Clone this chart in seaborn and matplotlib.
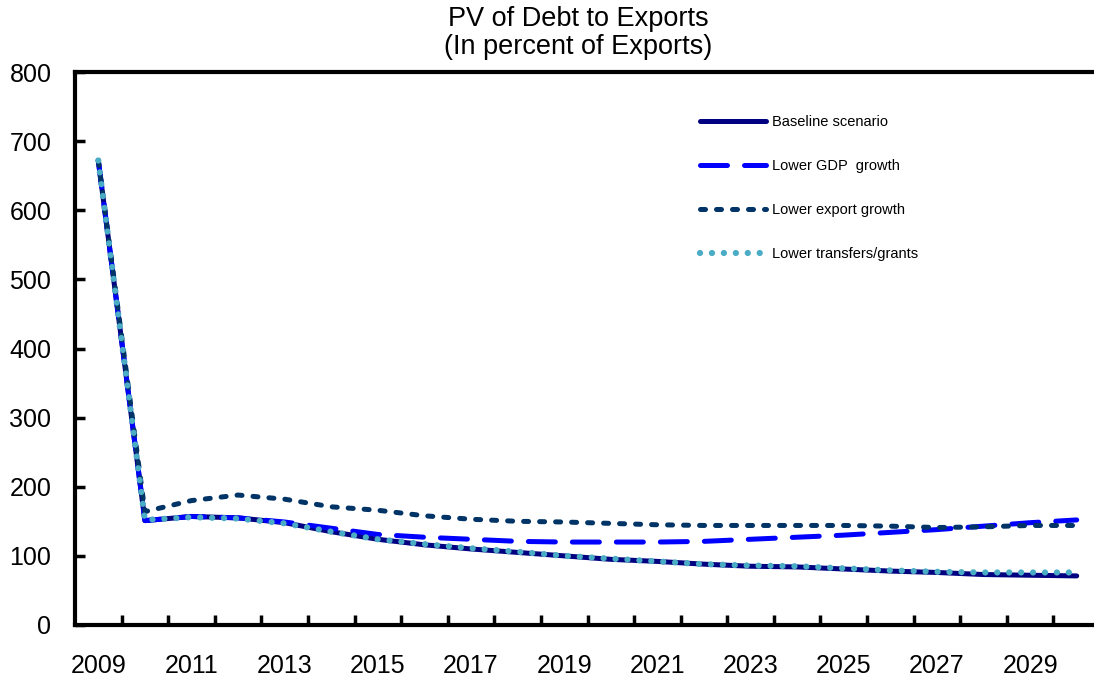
import pandas as pd
import matplotlib.pyplot as plt
import seaborn as sns

years = list(range(2009, 2031))
baseline = [672, 151, 157, 155, 148, 135, 124, 116, 110, 105, 100, 95, 92, 88, 85, 84, 81, 78, 76, 73, 72, 71]
lower_gdp = [672, 151, 157, 155, 149, 140, 131, 127, 124, 121, 120, 120, 120, 121, 124, 127, 130, 134, 138, 143, 148, 152]
lower_exports = [672, 164, 180, 188, 182, 171, 166, 158, 153, 150, 149, 147, 145, 144, 144, 144, 144, 143, 141, 142, 144, 144]
lower_transfers = [672, 152, 156, 154, 147, 135, 124, 117, 111, 106, 100, 96, 92, 88, 86, 85, 82, 79, 77, 76, 76, 76]

names = ['Baseline scenario', 'Lower GDP  growth', 'Lower export growth', 'Lower transfers/grants']
colors = ['#000080', '#0000FF', '#003366', '#4BACC6']
styles = ['-', (0, (5.4, 3.4)), (0, (1.0, 2.2)), (0, (0.01, 1.9))]
widths = [3.6, 3.6, 3.6, 4.5]

df = pd.DataFrame({'year': years, names[0]: baseline, names[1]: lower_gdp,
                   names[2]: lower_exports, names[3]: lower_transfers})
long = df.melt(id_vars='year', var_name='scenario', value_name='value')

sns.set_style('ticks')
plt.rcParams['font.family'] = ['Liberation Sans', 'DejaVu Sans']
plt.rcParams['text.color'] = 'black'
plt.rcParams['xtick.color'] = 'black'
plt.rcParams['ytick.color'] = 'black'

fig = plt.figure(figsize=(10.94, 6.82), dpi=100)
ax = fig.add_axes([75 / 1094, 57 / 682, 1025 / 1094, 553 / 682])

for name, c, ls, lw in zip(names, colors, styles, widths):
    sub = long[long['scenario'] == name]
    sns.lineplot(data=sub, x='year', y='value', ax=ax, color=c, linestyle=ls,
                 linewidth=lw, label=name, dash_capstyle='round', solid_capstyle='round')

ax.set_xlim(2008.5, 2030.5)
ax.set_ylim(0, 800)
ax.set_xlabel('')
ax.set_ylabel('')

ax.set_xticks(range(2009, 2031, 2))
ax.set_xticks([y + 0.5 for y in range(2009, 2030)], minor=True)
ax.tick_params(axis='x', which='major', bottom=True, length=0, labelsize=18, pad=21)
ax.tick_params(axis='x', which='minor', bottom=True, direction='in', length=7, width=2.5, color='black')
ax.set_yticks(range(0, 801, 100))
ax.tick_params(axis='y', which='major', left=True, direction='in', length=7, width=2.5,
               color='black', labelsize=18, pad=17)

for side in ['left', 'bottom', 'top']:
    ax.spines[side].set_visible(True)
    ax.spines[side].set_linewidth(3)
    ax.spines[side].set_color('black')
ax.spines['right'].set_visible(False)

fig.text(578 / 1094, 1 - 33 / 682, 'PV of Debt to Exports\n(In percent of Exports)',
         ha='center', va='center', fontsize=19.5, linespacing=1.12)

ax.legend(loc='upper left', bbox_to_anchor=(693 / 1094, 1 - 108 / 682),
          bbox_transform=fig.transFigure, frameon=False, fontsize=10.5,
          handlelength=4.5, handletextpad=0.45, labelspacing=2.05, borderpad=0)

fig.savefig('out.png', dpi=100)
